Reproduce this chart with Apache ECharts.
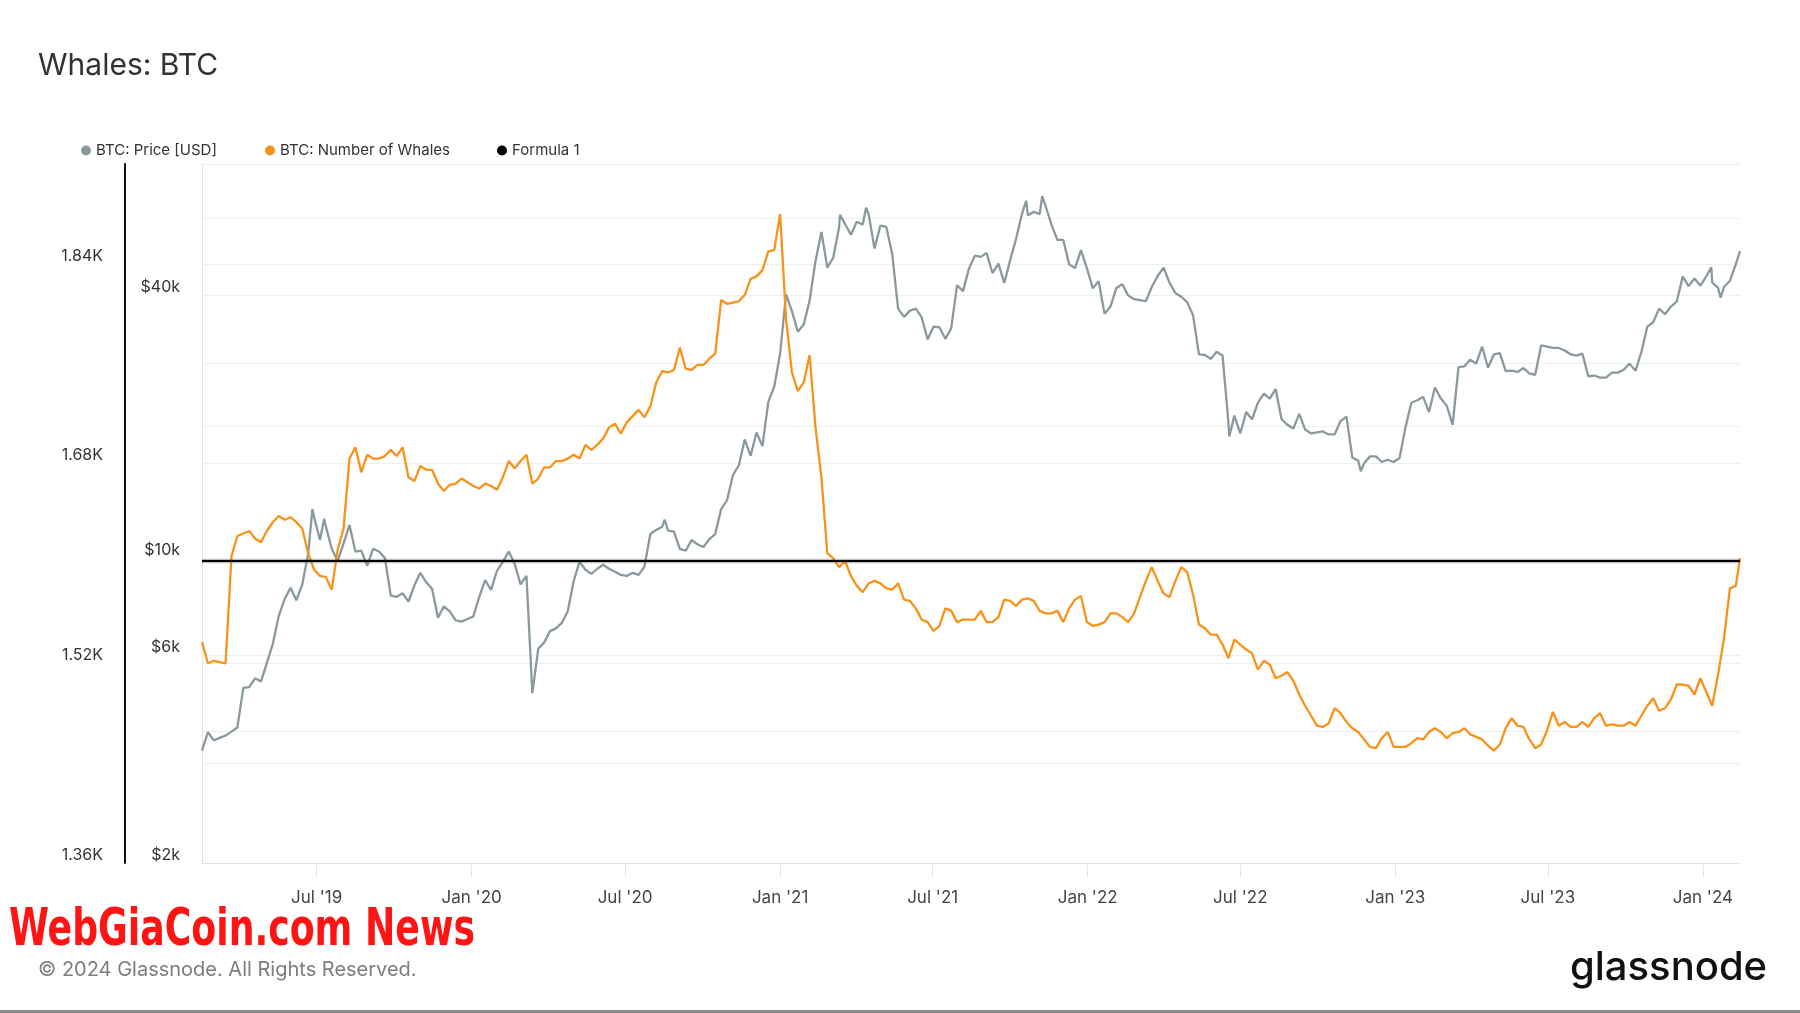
<!DOCTYPE html>
<html><head><meta charset="utf-8">
<script src="https://cdn.jsdelivr.net/npm/echarts@6/dist/echarts.min.js"></script>
<style>html,body{margin:0;padding:0;background:#fff}#c{width:1800px;height:1013px}</style>
</head><body><div id="c"></div>
<script>
// ---- data (weekly samples from 2019-02-15, last point 2024-02-14) ----
const startDate = '2019-02-15';
const endDate = '2024-02-14';
const priceUSD = [
3620,3990,3820,3870,3920,4000,4090,5040,5060,5300,
5210,5750,6350,7360,8050,8550,8000,8700,10250,12400,
11000,11800,10500,9850,10800,11900,10350,10400,9600,10500,
10350,10000,8200,8150,8300,7950,8650,9250,8800,8500,
7300,7750,7550,7200,7150,7250,7350,8150,8900,8450,
9350,9800,10350,9700,8700,9100,4900,6200,6400,6800,
6900,7100,7550,8850,9800,9400,9200,9450,9650,9450,
9300,9150,9100,9250,9150,9550,11350,11600,11800,11550,
11500,10500,10400,11000,10750,10600,11050,11350,12950,13550,
15500,16300,18700,17150,19400,18050,22800,24700,29400,40200,
36800,33000,34300,38900,47900,55900,46300,48800,57300,58300,
55100,59000,58100,61500,51200,57800,57400,49800,37300,35700,
36900,37300,35600,31700,33900,33800,31800,33600,42200,40900,
46000,49300,49000,50000,45000,47300,42700,48200,53900,61500,
61000,62200,61400,64100,58100,53600,53600,47100,46200,50800,
46200,41500,43100,36300,37700,41600,42400,40000,39200,39000,
38800,41800,44300,46300,42800,40500,39700,38600,36000,29300,
29200,28600,29700,29100,20400,21200,19300,21600,20800,22700,
23800,23200,24400,20800,20200,19800,21400,19700,19300,19400,
19500,19200,19200,20600,21100,17000,16700,16500,17100,17100,
16600,16800,16600,16950,19900,22700,23000,23400,21600,24600,
23200,22350,20200,27400,27500,28500,27900,30500,27300,29300,
29500,26800,26900,26700,27250,26500,26300,30700,30500,30300,
30300,29900,29300,29100,29400,26100,26200,25900,25900,26600,
26600,27000,27900,26850,29700,33900,34700,37300,36200,37700,
38700,44200,42000,43700,42100,44200,42800,41600,41800,43200,
47100,50500
];
// a few daily extremes visible in the picture, between the weekly samples
const priceExtraDates = ['2019-06-26','2019-07-10','2020-08-17','2021-03-13','2021-04-13','2021-10-20','2021-11-08','2022-06-18','2022-11-21','2024-01-11','2024-01-22'];
const priceExtra = [12950, 12300, 12250, 61200, 63500, 65900, 67500, 19000, 15800, 46400, 39500];
const whales = [
1537,1520,1522,1521,1520,1606,1622,1624,1626,1620,
1617,1626,1633,1638,1635,1637,1633,1628,1608,1595,
1590,1589,1579,1611,1628,1684,1693,1673,1687,1684,
1684,1686,1691,1686,1693,1669,1666,1678,1675,1675,
1664,1658,1663,1664,1668,1665,1662,1660,1664,1662,
1659,1669,1682,1676,1682,1687,1664,1668,1677,1677,
1682,1682,1684,1687,1684,1695,1691,1695,1700,1709,
1712,1704,1713,1718,1723,1717,1726,1745,1754,1753,
1755,1773,1756,1755,1759,1759,1764,1768,1811,1808,
1809,1810,1815,1828,1830,1835,1850,1851,1880,1796,
1753,1738,1745,1767,1709,1669,1608,1604,1597,1602,
1590,1582,1577,1584,1586,1584,1580,1579,1584,1571,
1570,1564,1555,1553,1546,1550,1564,1562,1553,1555,
1555,1555,1562,1553,1553,1557,1571,1570,1566,1571,
1572,1570,1562,1560,1560,1562,1553,1564,1571,1574,
1553,1550,1551,1553,1560,1560,1557,1553,1560,1573,
1586,1597,1586,1576,1573,1586,1597,1593,1575,1551,
1548,1543,1543,1535,1524,1539,1535,1531,1528,1515,
1522,1519,1508,1510,1513,1506,1495,1486,1478,1470,
1469,1472,1484,1480,1473,1468,1465,1459,1453,1452,
1460,1465,1453,1453,1453,1456,1460,1459,1465,1468,
1465,1460,1464,1465,1468,1463,1461,1459,1454,1450,
1455,1468,1476,1470,1469,1459,1452,1455,1466,1481,
1470,1473,1469,1469,1473,1469,1476,1480,1470,1471,
1470,1470,1473,1470,1478,1486,1492,1482,1484,1491,
1503,1503,1502,1495,1508,1497,1486,1511,1540,1580,
1582,1604
];
const formula1 = [1602, 1602];
const xTickDates = ['2019-07-01','2020-01-01','2020-07-01','2021-01-01','2021-07-01','2022-01-01','2022-07-01','2023-01-01','2023-07-01','2024-01-01'];
const priceLabelValues = [2000, 6000, 10000, 40000];
const priceGridValues = [2000, 4000, 6000, 10000, 20000, 40000, 60000];
const whaleLabelValues = [1360, 1520, 1680, 1840];
const seriesNames = ['BTC: Price [USD]', 'BTC: Number of Whales', 'Formula 1'];

// ---- build ----
const DAY = 86400000;
const toUTC = s => { const p = s.split('-').map(Number); return Date.UTC(p[0], p[1] - 1, p[2]); };
const t0 = toUTC(startDate), tEnd = toUTC(endDate);
const dates = priceUSD.map((_, i) => i < priceUSD.length - 1 ? t0 + i * 7 * DAY : tEnd);
const xTicks = xTickDates.map(toUTC);
const MONTHS = ['Jan','Feb','Mar','Apr','May','Jun','Jul','Aug','Sep','Oct','Nov','Dec'];
const FONT = 'Inter, "Noto Sans", sans-serif';
const pricePoints = dates.map((t, i) => [t, priceUSD[i]])
  .concat(priceExtraDates.map((d, i) => [toUTC(d), priceExtra[i]]))
  .sort((a, b) => a[0] - b[0]);

const chart = echarts.init(document.getElementById('c'), null, {renderer: 'canvas'});
const legendBase = {
  top: 143, padding: 0, icon: 'circle', itemWidth: 10, itemHeight: 10,
  textStyle: {fontSize: 15, color: '#333', fontFamily: FONT}
};
chart.setOption({
  animation: false,
  backgroundColor: '#fff',
  title: {text: 'Whales: BTC', left: 38, top: 51, padding: 0,
    textStyle: {fontSize: 30, fontWeight: 'normal', color: '#333', fontFamily: FONT}},
  legend: [
    Object.assign({left: 81, data: [seriesNames[0]]}, legendBase),
    Object.assign({left: 265, data: [seriesNames[1]]}, legendBase),
    Object.assign({left: 497, data: [seriesNames[2]]}, legendBase)
  ],
  grid: {left: 202, right: 60, top: 164, bottom: 150},
  xAxis: {
    type: 'value', min: t0, max: tEnd,
    axisLine: {show: true, lineStyle: {color: '#e2e2e2', width: 1}},
    axisTick: {show: true, length: 14, customValues: xTicks, lineStyle: {color: '#e6e6e6'}},
    axisLabel: {customValues: xTicks, margin: 26, fontSize: 17, color: '#444', fontFamily: FONT,
      formatter: v => { const d = new Date(v); return MONTHS[d.getUTCMonth()] + " '" + String(d.getUTCFullYear()).slice(2); }},
    splitLine: {show: false}
  },
  yAxis: [
    {
      type: 'log', logBase: 10, min: 2000, max: 80000, position: 'left',
      axisLine: {show: true, lineStyle: {color: '#e2e2e2', width: 1}},
      axisTick: {show: false, customValues: priceGridValues},
      axisLabel: {customValues: priceLabelValues, margin: 22, fontSize: 16, color: '#333', fontFamily: FONT,
        verticalAlign: 'bottom', formatter: v => '$' + Math.round(v / 1000) + 'k'},
      splitLine: {show: true, lineStyle: {color: '#efefef', width: 1}}
    },
    {
      type: 'value', min: 1360, max: 1920, interval: 80, position: 'left', offset: 77,
      axisLine: {show: true, lineStyle: {color: '#111', width: 2}},
      axisTick: {show: false},
      axisLabel: {customValues: whaleLabelValues, margin: 22, fontSize: 16, color: '#333', fontFamily: FONT,
        verticalAlign: 'bottom', formatter: v => (v / 1000).toFixed(2) + 'K'},
      splitLine: {show: true, lineStyle: {color: '#efefef', width: 1}}
    }
  ],
  series: [
    {name: seriesNames[0], type: 'line', yAxisIndex: 0, showSymbol: false, symbol: 'circle',
      itemStyle: {color: '#8a999e'}, lineStyle: {color: '#8a999e', width: 2.3},
      data: pricePoints, z: 2},
    {name: seriesNames[1], type: 'line', yAxisIndex: 1, showSymbol: false, symbol: 'circle',
      itemStyle: {color: '#f7931a'}, lineStyle: {color: '#f7931a', width: 2.3},
      data: dates.map((t, i) => [t, whales[i]]), z: 3},
    {name: seriesNames[2], type: 'line', yAxisIndex: 1, showSymbol: false, symbol: 'circle',
      itemStyle: {color: '#000'}, lineStyle: {color: '#000', width: 2.5},
      data: [[t0, formula1[0]], [tEnd, formula1[1]]], z: 4}
  ],
  graphic: [
    {type: 'text', x: 9, y: 906, scaleX: 0.79, style: {text: 'WebGiaCoin.com News', fill: '#ff1414',
      font: 'bold 51px "Liberation Sans Narrow", "DejaVu Sans Condensed", sans-serif'}},
    {type: 'text', left: 38, top: 960, style: {text: '© 2024 Glassnode. All Rights Reserved.', fill: '#7d7d7d',
      font: '20px Inter, "Noto Sans", sans-serif'}},
    {type: 'text', left: 1570, top: 948, style: {text: 'glassnode', fill: '#111',
      font: '500 40px Inter, "Noto Sans", sans-serif'}},
    {type: 'rect', left: 0, top: 1010, shape: {width: 1800, height: 3}, style: {fill: '#8c8c8c'}}
  ]
});
</script></body></html>
